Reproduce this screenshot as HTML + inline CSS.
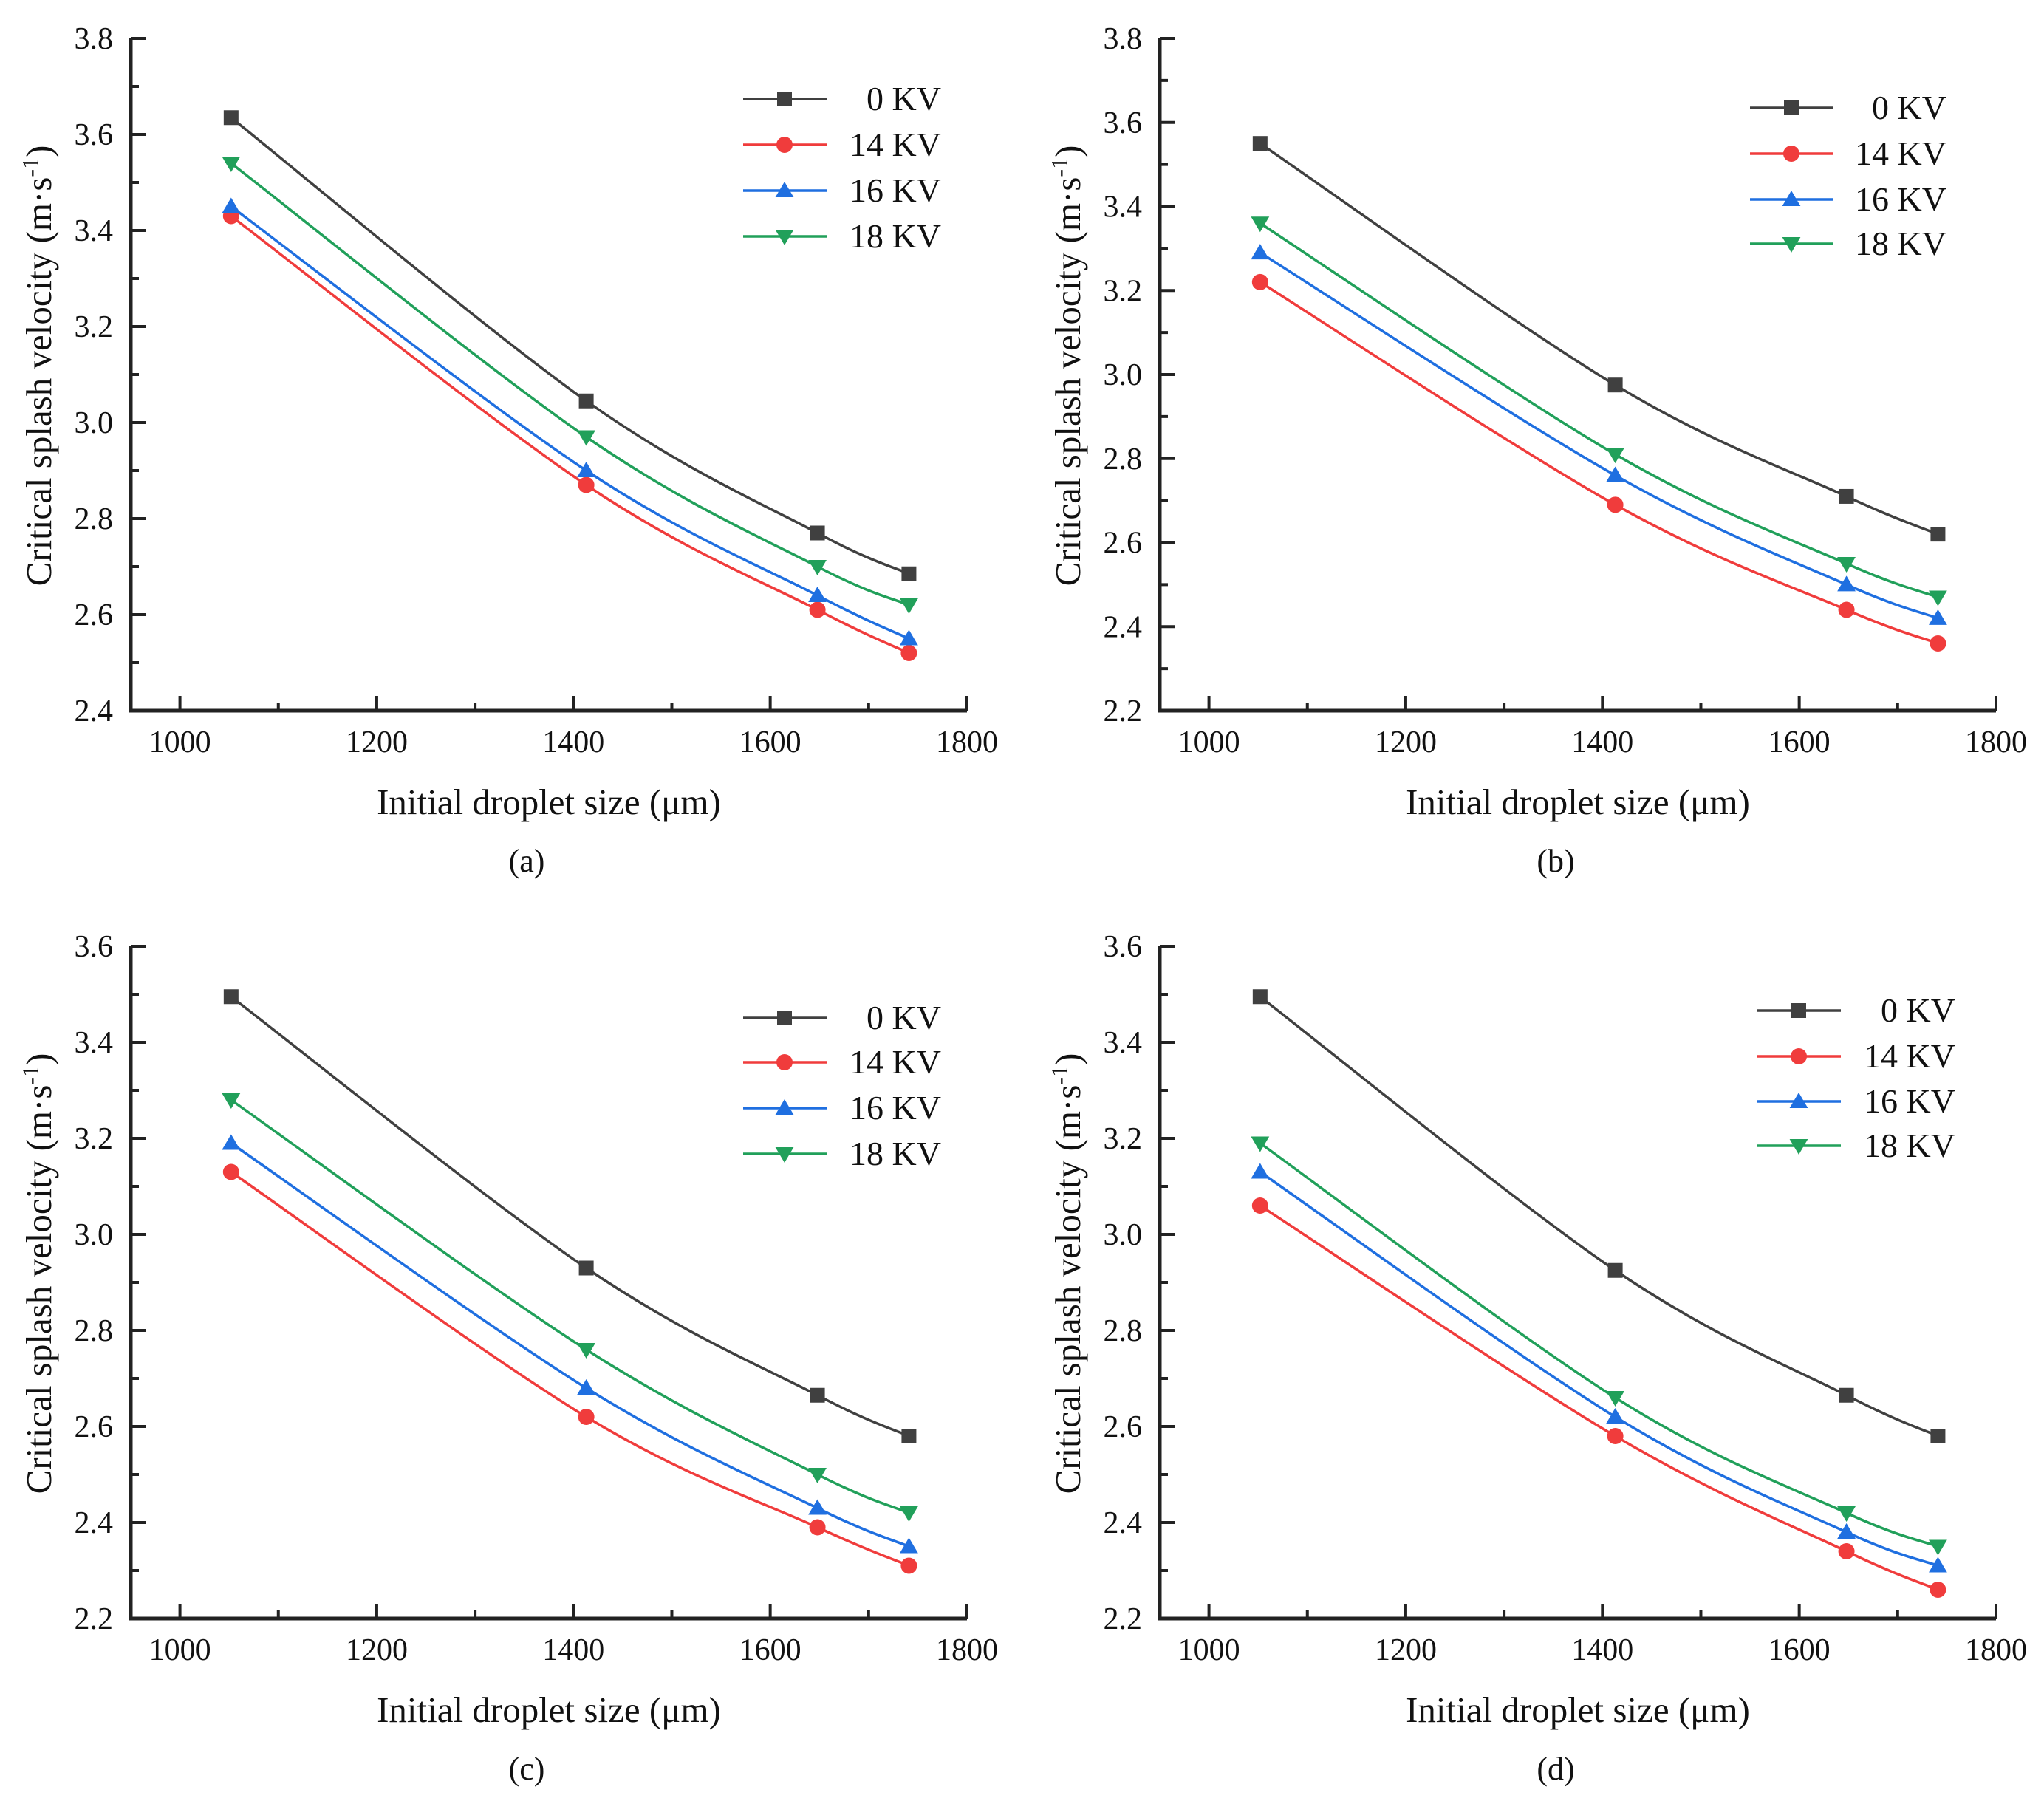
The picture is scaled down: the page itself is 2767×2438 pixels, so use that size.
<!DOCTYPE html>
<html><head><meta charset="utf-8">
<style>
html,body{margin:0;padding:0;background:#fff;}
svg{display:block;}
svg text{font-family:"Liberation Serif","DejaVu Serif",serif;}
</style></head>
<body>
<svg id="fig" width="2767" height="2438" viewBox="0 0 2767 2438" xmlns="http://www.w3.org/2000/svg"></svg>
<script>
const xValues = [1052, 1413, 1648, 1741];
const seriesNames = ["0 KV", "14 KV", "16 KV", "18 KV"];
const xTicks = [1000, 1200, 1400, 1600, 1800];
const aV0 = [3.635, 3.045, 2.77, 2.685];
const aV14 = [3.43, 2.87, 2.61, 2.52];
const aV16 = [3.45, 2.90, 2.64, 2.55];
const aV18 = [3.54, 2.97, 2.70, 2.62];
const bV0 = [3.55, 2.975, 2.71, 2.62];
const bV14 = [3.22, 2.69, 2.44, 2.36];
const bV16 = [3.29, 2.76, 2.50, 2.42];
const bV18 = [3.36, 2.81, 2.55, 2.47];
const cV0 = [3.495, 2.93, 2.665, 2.58];
const cV14 = [3.13, 2.62, 2.39, 2.31];
const cV16 = [3.19, 2.68, 2.43, 2.35];
const cV18 = [3.28, 2.76, 2.50, 2.42];
const dV0 = [3.495, 2.925, 2.665, 2.58];
const dV14 = [3.06, 2.58, 2.34, 2.26];
const dV16 = [3.13, 2.62, 2.38, 2.31];
const dV18 = [3.19, 2.66, 2.42, 2.35];
const aYTicks = [2.4, 2.6, 2.8, 3.0, 3.2, 3.4, 3.6, 3.8];
const bYTicks = [2.2, 2.4, 2.6, 2.8, 3.0, 3.2, 3.4, 3.6, 3.8];
const cYTicks = [2.2, 2.4, 2.6, 2.8, 3.0, 3.2, 3.4, 3.6];
const dYTicks = [2.2, 2.4, 2.6, 2.8, 3.0, 3.2, 3.4, 3.6];

const colors = ["#404040", "#f03c3c", "#1f6fe0", "#21a05a"];
const markers = ["square", "circle", "up", "down"];
const NS = "http://www.w3.org/2000/svg";
const FONT = '"Liberation Serif", "DejaVu Serif", serif';
const svg = document.getElementById("fig");
function el(tag, attrs, parent) {
  const e = document.createElementNS(NS, tag);
  for (const k in attrs) e.setAttribute(k, attrs[k]);
  if (tag === "text") e.setAttribute("font-family", FONT);
  (parent || svg).appendChild(e);
  return e;
}
function fmt(v){ return v.toFixed(1); }

const panels = [
  {id:"a", L:177, R:1309, T:52, B:962, yMin:2.4, yMax:3.8, yTicks:aYTicks, series:[aV0,aV14,aV16,aV18], legX:1006, legTextX:1274, legY:[134,196,258,320]},
  {id:"b", L:1570, R:2702, T:52, B:962, yMin:2.2, yMax:3.8, yTicks:bYTicks, series:[bV0,bV14,bV16,bV18], legX:2369, legTextX:2635, legY:[146,208,270,330]},
  {id:"c", L:177, R:1309, T:1281, B:2191, yMin:2.2, yMax:3.6, yTicks:cYTicks, series:[cV0,cV14,cV16,cV18], legX:1006, legTextX:1274, legY:[1378,1438,1500,1562]},
  {id:"d", L:1570, R:2702, T:1281, B:2191, yMin:2.2, yMax:3.6, yTicks:dYTicks, series:[dV0,dV14,dV16,dV18], legX:2379, legTextX:2647, legY:[1368,1430,1491,1551]}
];

function drawMarker(g, type, x, y, color, s) {
  let m;
  if (type === "square") m = el("rect", {x:x-s/2, y:y-s/2, width:s, height:s, fill:color}, g);
  else if (type === "circle") m = el("circle", {cx:x, cy:y, r:s/2+1, fill:color}, g);
  else if (type === "up") m = el("polygon", {points:`${x},${y-s*0.6} ${x-s*0.62},${y+s*0.45} ${x+s*0.62},${y+s*0.45}`, fill:color}, g);
  else m = el("polygon", {points:`${x},${y+s*0.6} ${x-s*0.62},${y-s*0.45} ${x+s*0.62},${y-s*0.45}`, fill:color}, g);
  return m;
}

function smoothPath(pts) {
  let d = `M${pts[0][0]},${pts[0][1]}`;
  for (let i = 0; i < pts.length - 1; i++) {
    const p0 = pts[i-1] || pts[i], p1 = pts[i], p2 = pts[i+1], p3 = pts[i+2] || p2;
    const c1x = p1[0] + (p2[0]-p0[0])/6, c1y = p1[1] + (p2[1]-p0[1])/6;
    const c2x = p2[0] - (p3[0]-p1[0])/6, c2y = p2[1] - (p3[1]-p1[1])/6;
    d += ` C${c1x},${c1y} ${c2x},${c2y} ${p2[0]},${p2[1]}`;
  }
  return d;
}

panels.forEach(p => {
  const g = el("g", {});
  
  
  const xs = v => p.L + (v - 950) / 850 * (p.R - p.L);
  const ys = v => p.B - (v - p.yMin) / (p.yMax - p.yMin) * (p.B - p.T);

  const ax = el("path", {d:`M${p.L},${p.T} L${p.L},${p.B} L${p.R},${p.B}`, fill:"none", stroke:"#222", "stroke-width":5}, g);
  
  
  p.yTicks.forEach((t, i) => {
    const y = ys(t);
    el("line", {x1:p.L, y1:y, x2:p.L+20, y2:y, stroke:"#222", "stroke-width":4}, g);
    if (i < p.yTicks.length - 1) {
      const ym = ys(t + 0.1);
      el("line", {x1:p.L, y1:ym, x2:p.L+11, y2:ym, stroke:"#222", "stroke-width":4}, g);
    }
    const tx = el("text", {x:p.L-24, y:y+14, "font-size":42, "text-anchor":"end", fill:"#111"}, g);
    tx.textContent = fmt(t);
    
    
  });
  xTicks.forEach((t, i) => {
    const x = xs(t);
    el("line", {x1:x, y1:p.B, x2:x, y2:p.B-20, stroke:"#222", "stroke-width":4}, g);
    if (i < xTicks.length - 1) {
      const xm = xs(t + 100);
      el("line", {x1:xm, y1:p.B, x2:xm, y2:p.B-11, stroke:"#222", "stroke-width":4}, g);
    }
    const tx = el("text", {x:x, y:p.B+56, "font-size":42, "text-anchor":"middle", fill:"#111"}, g);
    tx.textContent = String(t);
    
    
  });
  const xt = el("text", {x:(p.L+p.R)/2+0, y:p.B+140, "font-size":49, "text-anchor":"middle", fill:"#111"}, g);
  xt.textContent = "Initial droplet size (μm)";
  
  
  const cy = (p.T + p.B) / 2 - 12;
  const yt = el("text", {x:0, y:0, "font-size":49, "text-anchor":"middle", fill:"#111", transform:`translate(${p.L-108},${cy}) rotate(-90)`}, g);
  yt.innerHTML = 'Critical splash velocity (m·s<tspan dy="-17" font-size="32">-1</tspan><tspan dy="17">)</tspan>';
  
  
  const lab = el("text", {x:(p.L+p.R)/2-30, y:p.B+218, "font-size":44, "text-anchor":"middle", fill:"#111"}, g);
  lab.textContent = "(" + p.id + ")";
  
  

  p.series.forEach((vals, si) => {
    const pts = vals.map((v, i) => [xs(xValues[i]), ys(v)]);
    const line = el("path", {d:smoothPath(pts), fill:"none", stroke:colors[si], "stroke-width":3.5}, g);
    
    
    pts.forEach(pt => {
      const m = drawMarker(g, markers[si], pt[0], pt[1], colors[si], 20);
      
      
    });
    const ly = p.legY[si];
    const lg = el("g", {}, g);
    
    
    el("line", {x1:p.legX, y1:ly, x2:p.legX+113, y2:ly, stroke:colors[si], "stroke-width":3.5}, lg);
    drawMarker(lg, markers[si], p.legX+56, ly, colors[si], 20);
    const lt = el("text", {x:p.legTextX, y:ly+15, "font-size":46, "text-anchor":"end", fill:"#111"}, lg);
    lt.textContent = seriesNames[si];
  });
});
</script>
</body></html>
